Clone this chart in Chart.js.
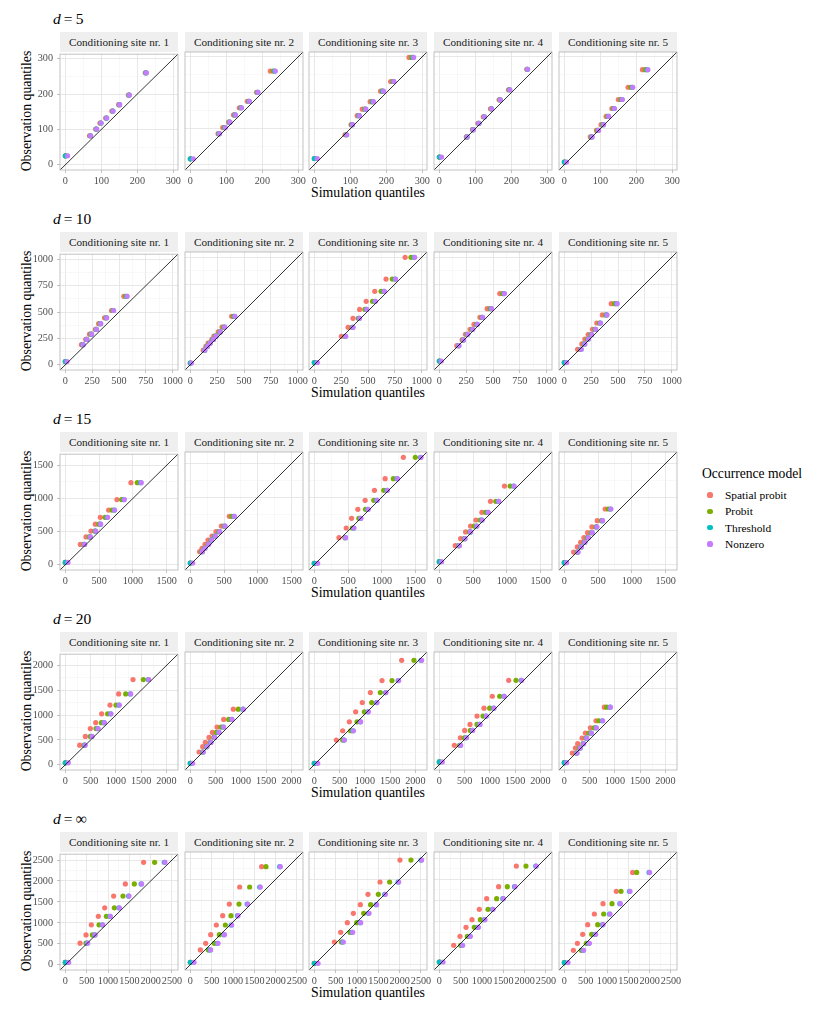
<!DOCTYPE html>
<html><head><meta charset="utf-8">
<script src="https://cdn.jsdelivr.net/npm/chart.js@4.4.1/dist/chart.umd.min.js"></script>
<style>
html,body{margin:0;padding:0;background:#fff;}
body{width:822px;height:1012px;position:relative;overflow:hidden;font-family:'Liberation Serif','DejaVu Serif',serif;color:#000;}
.t{position:absolute;white-space:nowrap;}
.strip{position:absolute;background:#EFEFEF;color:#1A1A1A;font-size:11.2px;text-align:center;line-height:20px;height:20px;}
canvas{position:absolute;}
</style></head><body>
<script>
// ---------------- data ----------------
const rowLabels = ['5', '10', '15', '20', '\u221E'];
const siteLabels = ['Conditioning site nr. 1','Conditioning site nr. 2','Conditioning site nr. 3','Conditioning site nr. 4','Conditioning site nr. 5'];
const modelNames = ['Spatial probit','Probit','Threshold','Nonzero'];
const modelColors = ['#F8766D','#7CAE00','#00BFC4','#C77CFF'];

// tick labels (major) and axis limits per row
const ticks_d5 = [0,100,200,300];
const ticks_d10 = [0,250,500,750,1000];
const ticks_d15 = [0,500,1000,1500];
const ticks_d20 = [0,500,1000,1500,2000];
const ticks_dinf = [0,500,1000,1500,2000,2500];
const limits_d5 = [-15, 313];
const limits_d10 = [-50, 1050];
const limits_d15 = [-79, 1668];
const limits_d20 = [-106, 2231];
const limits_dinf = [-126, 2641];

// d = 5
const obs_d5 = [
 [25,82,101,118,132,152,170,197,260],
 [16,86,103,118,138,158,176,201,260],
 [17,83,111,136,154,175,204,231,298],
 [21,77,97,115,133,155,180,208,265],
 [7,77,95,111,134,156,181,215,264]];
const spatial_d5 = [
 [0,67,84,96,112,129,148,175,222],
 [0,77,90,106,120,136,158,184,222],
 [0,85,102,119,133,155,184,212,263],
 [0,75,92,107,122,142,166,192,243],
 [0,72,89,102,116,132,150,177,217]];
const probit_d5 = [
 [0,69,86,98,114,131,150,177,224],
 [0,79,94,108,123,140,162,186,230],
 [0,88,104,123,140,160,188,218,270],
 [0,76,93,109,124,144,168,194,244],
 [0,75,92,106,120,136,157,185,225]];
const threshold_d5 = [
 [0,70,86,99,114,132,150,177,224],
 [0,80,96,109,124,141,163,187,234],
 [0,89,105,124,142,162,190,220,274],
 [0,77,94,110,125,145,169,195,245],
 [0,76,94,108,122,138,160,189,230]];
const nonzero_d5 = [
 [6,70,87,99,115,132,151,178,225],
 [8,81,97,110,125,142,164,188,236],
 [8,90,106,125,143,164,192,221,276],
 [6,77,94,110,125,145,169,196,245],
 [6,77,95,109,123,139,161,190,232]];

// d = 10
const obs_d10 = [
 [30,190,240,290,335,390,445,515,650],
 [15,135,170,200,235,265,305,350,450],
 [19,264,348,432,515,590,683,798,1000],
 [34,177,230,283,329,376,441,522,662],
 [19,143,193,239,280,329,388,463,568]];
const spatial_d10 = [
 [0,150,190,225,280,310,365,430,545],
 [0,120,145,165,200,220,260,295,385],
 [0,252,314,360,422,483,563,668,846],
 [0,163,212,243,286,323,378,446,563],
 [0,123,163,191,222,262,302,354,437]];
const probit_d10 = [
 [0,160,197,238,286,322,378,442,560],
 [0,130,155,178,210,232,272,310,400],
 [0,285,352,409,471,542,622,726,901],
 [0,178,220,258,303,345,395,472,590],
 [0,150,184,216,247,284,328,385,468]];
const threshold_d10 = [
 [0,163,199,243,289,328,383,448,572],
 [0,133,158,183,213,238,278,318,412],
 [0,290,358,418,486,565,648,752,930],
 [0,181,224,263,309,352,401,483,603],
 [0,155,189,222,253,290,335,394,488]];
const nonzero_d10 = [
 [15,165,200,245,290,330,385,450,575],
 [10,135,160,185,215,240,280,320,415],
 [28,292,360,421,489,569,652,757,935],
 [18,182,225,265,311,354,403,486,606],
 [22,157,191,225,255,292,338,397,492]];

// d = 15
const obs_d15 = [
 [35,306,419,508,612,715,824,982,1238],
 [25,192,242,301,365,424,488,572,715],
 [20,400,543,686,819,952,1100,1273,1589],
 [44,281,385,484,572,661,775,937,1164],
 [30,187,262,331,400,474,558,651,824]];
const spatial_d15 = [
 [0,222,306,380,444,518,641,764,971],
 [0,138,173,217,261,321,380,459,577],
 [0,364,472,551,644,752,890,1048,1318],
 [0,236,315,389,462,541,630,757,964],
 [0,138,192,241,290,344,408,487,605]];
const probit_d15 = [
 [0,276,355,434,498,587,690,833,1065],
 [0,170,208,262,305,358,420,498,611],
 [0,452,561,659,757,880,1028,1170,1495],
 [0,285,368,448,516,605,684,836,1048],
 [0,192,240,293,340,400,468,550,649]];
const threshold_d15 = [
 [0,283,366,446,518,620,724,866,1115],
 [0,176,215,269,313,367,431,510,646],
 [0,460,582,685,792,924,1076,1224,1572],
 [0,292,376,458,552,630,718,874,1100],
 [0,199,248,302,351,410,478,562,684]];
const nonzero_d15 = [
 [39,286,370,449,523,626,730,873,1124],
 [35,178,217,271,316,370,434,513,651],
 [49,462,585,689,797,929,1082,1230,1579],
 [34,295,379,462,556,634,723,880,1107],
 [34,202,251,305,354,413,482,566,689]];

// d = 20
const obs_d20 = [
 [39,395,572,730,849,1026,1204,1428,1717],
 [26,250,355,441,540,638,744,895,1099],
 [26,487,671,849,1046,1230,1428,1665,2066],
 [53,382,533,678,796,961,1119,1355,1671],
 [39,230,329,415,526,625,730,869,1138]];
const spatial_d20 = [
 [0,284,396,495,601,719,884,1056,1340],
 [0,172,244,297,370,436,528,660,851],
 [0,436,561,693,818,950,1109,1340,1729],
 [0,297,416,502,607,746,884,1049,1373],
 [0,158,218,264,350,416,515,627,792]];
const probit_d20 = [
 [0,372,495,607,713,838,1003,1195,1544],
 [0,240,315,390,465,515,607,759,950],
 [0,561,719,845,990,1135,1307,1538,1973],
 [0,400,495,614,746,865,997,1195,1518],
 [0,235,300,370,425,488,587,680,838]];
const threshold_d20 = [
 [0,385,522,640,765,896,1060,1285,1640],
 [0,252,325,403,476,562,653,818,1040],
 [0,588,765,910,1060,1232,1410,1660,2112],
 [0,417,530,654,798,924,1074,1278,1620],
 [0,247,312,378,437,530,628,752,903]];
const nonzero_d20 = [
 [59,389,528,647,772,904,1069,1294,1650],
 [46,257,330,409,482,568,660,825,1049],
 [66,594,772,917,1069,1241,1419,1670,2125],
 [59,422,535,660,805,931,1082,1287,1630],
 [46,251,317,383,442,535,634,759,911]];

// d = infinity
const obs_dinf = [
 [55,515,711,953,1156,1359,1640,1929,2445],
 [55,344,500,703,929,1148,1421,1820,2296],
 [31,531,758,984,1203,1406,1648,1937,2452],
 [62,453,664,875,1054,1296,1546,1828,2312],
 [47,336,500,711,937,1187,1429,1718,2163]];
const spatial_dinf = [
 [0,344,484,609,773,922,1132,1406,1835],
 [0,234,359,476,609,758,914,1156,1671],
 [0,469,617,773,914,1078,1257,1539,2007],
 [0,336,484,625,765,937,1109,1390,1804],
 [0,211,305,430,547,703,906,1218,1601]];
const probit_dinf = [
 [0,484,633,789,961,1148,1351,1617,2093],
 [0,422,562,679,820,953,1140,1390,1773],
 [0,633,836,992,1156,1320,1500,1765,2265],
 [0,500,656,820,961,1140,1343,1593,2031],
 [0,398,515,640,781,922,1117,1328,1695]];
const threshold_dinf = [
 [0,510,688,866,1045,1255,1480,1775,2320],
 [0,460,635,785,955,1105,1330,1625,2095],
 [0,665,885,1075,1268,1448,1650,1962,2500],
 [0,535,714,902,1058,1245,1488,1760,2260],
 [0,440,573,722,895,1058,1300,1525,1985]];
const nonzero_dinf = [
 [78,523,695,875,1054,1265,1492,1788,2335],
 [86,476,648,797,968,1117,1343,1640,2109],
 [86,679,898,1086,1281,1460,1664,1976,2515],
 [86,547,726,914,1070,1257,1500,1773,2273],
 [86,453,586,734,906,1070,1312,1539,1999]];

const rows = [
 {label: rowLabels[0], ticks: ticks_d5,  lim: limits_d5,  obs: obs_d5,  models: [spatial_d5, probit_d5, threshold_d5, nonzero_d5]},
 {label: rowLabels[1], ticks: ticks_d10, lim: limits_d10, obs: obs_d10, models: [spatial_d10, probit_d10, threshold_d10, nonzero_d10]},
 {label: rowLabels[2], ticks: ticks_d15, lim: limits_d15, obs: obs_d15, models: [spatial_d15, probit_d15, threshold_d15, nonzero_d15]},
 {label: rowLabels[3], ticks: ticks_d20, lim: limits_d20, obs: obs_d20, models: [spatial_d20, probit_d20, threshold_d20, nonzero_d20]},
 {label: rowLabels[4], ticks: ticks_dinf,lim: limits_dinf,obs: obs_dinf,models: [spatial_dinf, probit_dinf, threshold_dinf, nonzero_dinf]}
];

// ---------------- layout ----------------
const FONT = "'Liberation Serif','DejaVu Serif',serif";
Chart.defaults.font.family = FONT;
const colLeft = [60,185,309,434,559];
const W = 118, H = 118;
const padL = 32, padT = 8, padR = 14, padB = 18;
const rowTop = r => 52 + 200*r;

function addText(html, css){
  const d = document.createElement('div');
  d.className = 't';
  d.innerHTML = html;
  Object.assign(d.style, css);
  document.body.appendChild(d);
  return d;
}

const borderPlugin = {
  id: 'panelBorder',
  afterDraw(chart){
    const {ctx, chartArea: a} = chart;
    ctx.save();
    ctx.strokeStyle = '#B3B3B3';
    ctx.lineWidth = 0.8;
    ctx.strokeRect(a.left, a.top, a.right - a.left, a.bottom - a.top);
    ctx.restore();
  }
};

function gridFor(major, showTicks){
  const isMajor = v => major.includes(v);
  return {
    color: c => (c.tick && isMajor(c.tick.value)) ? '#E2E2E2' : '#F0F0F0',
    lineWidth: c => (c.tick && isMajor(c.tick.value)) ? 0.8 : 0.5,
    drawTicks: showTicks,
    tickLength: 3,
    tickColor: c => (c.tick && isMajor(c.tick.value)) ? '#B3B3B3' : 'rgba(0,0,0,0)',
    tickWidth: 0.8
  };
}

rows.forEach((row, r) => {
  const top = rowTop(r);
  const major = row.ticks;
  const all = [];
  for (let i = 0; i < major.length; i++) {
    all.push(major[i]);
    if (i < major.length - 1) all.push((major[i] + major[i+1]) / 2);
  }
  const [lo, hi] = row.lim;

  addText('<i>d</i>&#8201;=&#8201;' + row.label, {left:'53px', top:(top-43)+'px', fontSize:'15.5px', lineHeight:'20px'});
  addText('Simulation quantiles', {left:'368px', top:(top+131)+'px', fontSize:'13.8px', lineHeight:'20px', transform:'translateX(-50%)'});
  addText('Observation quantiles', {left:'27px', top:(top+H/2)+'px', fontSize:'13.8px', lineHeight:'16px', transform:'translate(-50%,-50%) rotate(-90deg)'});

  for (let c = 0; c < 5; c++) {
    const s = document.createElement('div');
    s.className = 'strip';
    s.textContent = siteLabels[c];
    Object.assign(s.style, {left: colLeft[c]+'px', top: (top-20)+'px', width: W+'px'});
    document.body.appendChild(s);

    const cv = document.createElement('canvas');
    cv.width = padL + W + padR;
    cv.height = padT + H + padB;
    cv.style.left = (colLeft[c] - padL) + 'px';
    cv.style.top = (top - padT) + 'px';
    cv.style.width = cv.width + 'px';
    cv.style.height = cv.height + 'px';
    document.body.appendChild(cv);

    const datasets = row.models.map((xs, m) => ({
      label: modelNames[m],
      data: row.obs[c].map((y, i) => ({x: xs[c][i], y: y})),
      backgroundColor: modelColors[m],
      borderWidth: 0,
      pointRadius: 2.6,
      pointHoverRadius: 2.6,
      order: 4 - m
    }));
    datasets.push({
      type: 'line',
      label: 'identity',
      data: [{x: lo, y: lo}, {x: hi, y: hi}],
      borderColor: '#000',
      borderWidth: 0.8,
      pointRadius: 0,
      fill: false,
      order: -1
    });

    new Chart(cv, {
      type: 'scatter',
      data: {datasets},
      plugins: [borderPlugin],
      options: {
        responsive: false,
        animation: false,
        events: [],
        layout: {padding: {left: 0, right: padR, top: padT, bottom: 0}},
        plugins: {legend: {display: false}, tooltip: {enabled: false}},
        scales: {
          x: {
            type: 'linear', position: 'bottom', min: lo, max: hi,
            afterBuildTicks: sc => { sc.ticks = all.map(v => ({value: v})); },
            afterFit: sc => { sc.height = padB; },
            ticks: {autoSkip: false, maxRotation: 0, minRotation: 0, padding: 2, color: '#4D4D4D',
                    font: {family: FONT, size: 10.2},
                    callback: v => major.includes(v) ? String(v) : ''},
            grid: gridFor(major, true),
            border: {display: false}
          },
          y: {
            type: 'linear', position: 'left', min: lo, max: hi,
            afterBuildTicks: sc => { sc.ticks = all.map(v => ({value: v})); },
            afterFit: sc => { sc.width = padL; },
            ticks: {display: c === 0, autoSkip: false, padding: 4, color: '#4D4D4D',
                    font: {family: FONT, size: 10.2},
                    callback: v => major.includes(v) ? String(v) : ''},
            grid: gridFor(major, c === 0),
            border: {display: false}
          }
        }
      }
    });
  }
});

// ---------------- legend ----------------
addText('Occurrence model', {left:'702px', top:'464px', fontSize:'13.6px', lineHeight:'20px'});
const legY = [495, 511.3, 527.7, 544];
modelNames.forEach((n, i) => {
  const dot = document.createElement('div');
  Object.assign(dot.style, {position:'absolute', left:(710-2.6)+'px', top:(legY[i]-2.6)+'px', width:'5.2px', height:'5.2px', borderRadius:'50%', background: modelColors[i]});
  document.body.appendChild(dot);
  addText(n, {left:'725px', top:(legY[i]-8)+'px', fontSize:'11.4px', lineHeight:'16px'});
});
</script>
</body></html>
